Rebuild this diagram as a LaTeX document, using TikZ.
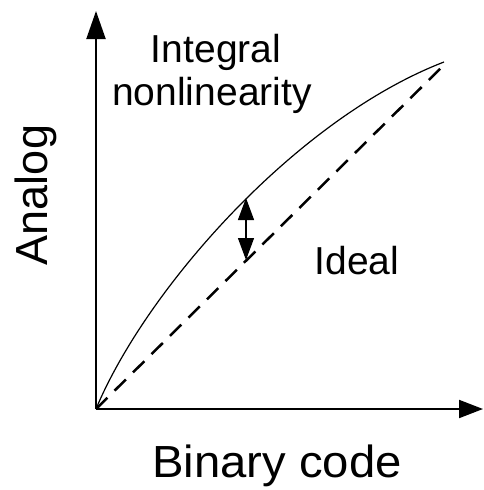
\documentclass[tikz,border=0pt]{standalone}
\usepackage{fontspec}
\setmainfont{Liberation Sans}
\usetikzlibrary{arrows.meta}
\begin{document}
\begin{tikzpicture}[x=1pt,y=-1pt,
  axis/.style={line width=2pt},
  inlabel/.style={inner sep=0pt,anchor=base,font=\fontsize{39}{47}\selectfont},
  axlabel/.style={inner sep=0pt,anchor=base,font=\fontsize{45}{54}\selectfont},
  curvestyle/.style={line width=1.2pt},
  idealstyle/.style={line width=2.5pt,dash pattern=on 16pt off 10pt},
  gapstyle/.style={line width=1.2pt,{Triangle[length=22pt,width=16pt]}-{Triangle[length=22pt,width=16pt]}}]
\useasboundingbox (0,0) rectangle (483,490);
\coordinate (O) at (96,409);
\coordinate (ytip) at (96,11);
\coordinate (xtip) at (483,409);
\coordinate (E) at (444,62);
\coordinate (Ed) at (443,66);
\coordinate (top) at (246,198);
\coordinate (bot) at (246,260);
% axes
\draw[axis,-{Triangle[length=28pt,width=19pt]}] (O) -- (ytip);
\draw[axis,-{Triangle[length=24pt,width=18pt]}] (O) -- (xtip);
% ideal
\draw[idealstyle] (O) -- (Ed);
% nonlinear curve
\draw[curvestyle] (O) .. controls (146,289) and (296,119) .. (E);
% gap arrow
\draw[gapstyle] (top) -- (bot);
% labels
\node[inlabel] (l1) at (216,62) {Integral};
\node[inlabel] (l2) at (212,105) {nonlinearity};
\node[inlabel] (l3) at (357,274) {Ideal};
\node[axlabel,rotate=90] (ya) at (47,195) {Analog};
\node[axlabel] (xa) at (277,477) {\scalebox{1.05}[1]{Binary code}};
\end{tikzpicture}
\end{document}
